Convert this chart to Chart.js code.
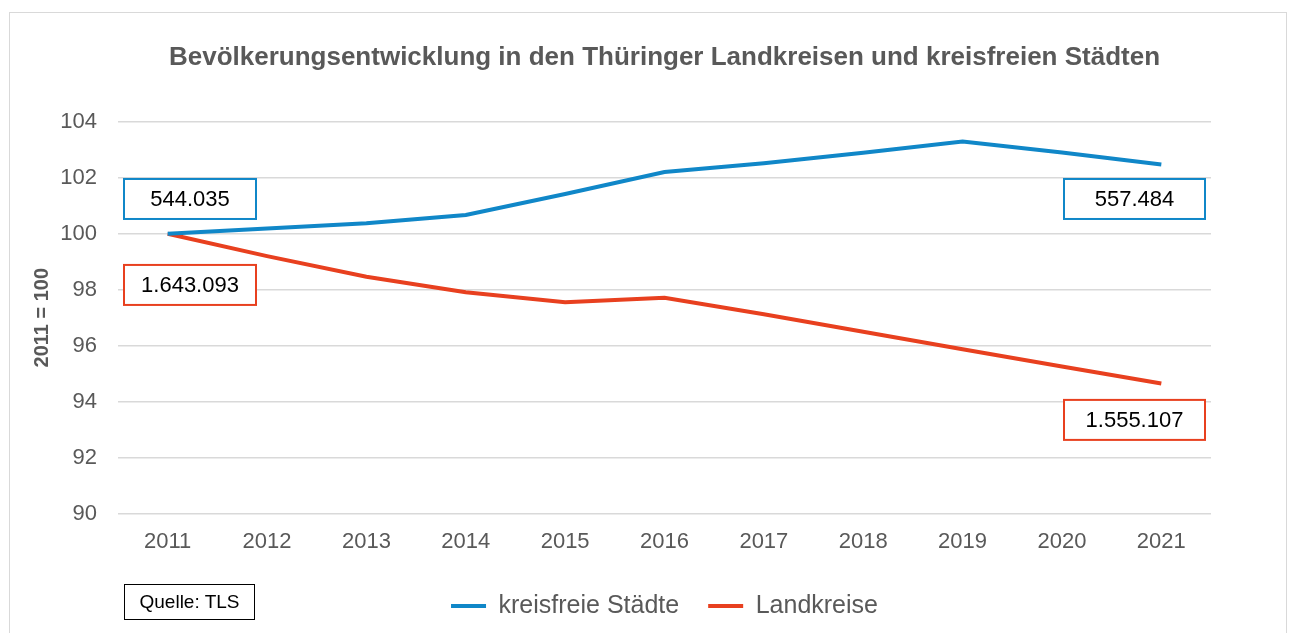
<!DOCTYPE html>
<html lang="de">
<head>
<meta charset="utf-8">
<title>Bevölkerungsentwicklung Thüringen</title>
<script src="https://cdn.jsdelivr.net/npm/chart.js@4.4.1/dist/chart.umd.min.js"></script>
<style>
  html, body { margin: 0; padding: 0; background: #fff; }
  #wrap { position: relative; width: 1289px; height: 633px; overflow: hidden; font-family: "Liberation Sans", Arial, sans-serif; }
  #frame { position: absolute; left: 9px; top: 12px; width: 1276px; height: 640px; border: 1px solid #d9d9d9; }
  #chart { position: absolute; left: 0; top: 0; }
  #quelle {
    position: absolute; left: 124px; top: 584px; width: 129px; height: 34px;
    border: 1.5px solid #000; color: #000; font-size: 19px;
    display: flex; align-items: center; justify-content: center;
  }
</style>
</head>
<body>
<div id="wrap">
  <div id="frame"></div>
  <canvas id="chart" width="1289" height="633"></canvas>
  <div id="quelle">Quelle: TLS</div>
</div>
<script>
// ---------------- DATEN ----------------
const years = ['2011','2012','2013','2014','2015','2016','2017','2018','2019','2020','2021'];
const kreisfreieStaedte = [100, 100.19, 100.37, 100.67, 101.42, 102.2, 102.52, 102.89, 103.29, 102.9, 102.47];
const landkreise = [100, 99.2, 98.46, 97.91, 97.55, 97.71, 97.12, 96.5, 95.87, 95.26, 94.65];
const seriesNames = ['kreisfreie Städte', 'Landkreise'];
const startCounts = ['544.035', '1.643.093'];   // Einwohner 2011
const endCounts = ['557.484', '1.555.107'];     // Einwohner 2021

const BLUE = '#1087c8';
const RED = '#e8401f';
const GREY = '#595959';
const FONT = '"Liberation Sans", Arial, sans-serif';

// Kästen mit Einwohnerzahlen (Lage in Wertachse)
const countBoxes = [
  { text: startCounts[0], color: BLUE, side: 'left',  value: 101.24, w: 132 },
  { text: startCounts[1], color: RED,  side: 'left',  value: 98.17,  w: 132 },
  { text: endCounts[0],   color: BLUE, side: 'right', value: 101.24, w: 141 },
  { text: endCounts[1],   color: RED,  side: 'right', value: 93.35,  w: 141 }
];

const countBoxPlugin = {
  id: 'countBoxes',
  afterDatasetsDraw(chart) {
    const { ctx, chartArea, scales } = chart;
    ctx.save();
    countBoxes.forEach(b => {
      const x = b.side === 'left' ? chartArea.left + 6 : chartArea.right - 6 - b.w;
      const yc = scales.y.getPixelForValue(b.value);
      ctx.fillStyle = '#fff';
      ctx.fillRect(x, yc - 20, b.w, 40);
      ctx.lineWidth = 2;
      ctx.strokeStyle = b.color;
      ctx.strokeRect(x, yc - 20, b.w, 40);
      ctx.fillStyle = '#000';
      ctx.font = '22px ' + FONT;
      ctx.textAlign = 'center';
      ctx.textBaseline = 'middle';
      ctx.fillText(b.text, x + b.w / 2, yc + 1);
    });
    ctx.restore();
  }
};

new Chart(document.getElementById('chart').getContext('2d'), {
  type: 'line',
  data: {
    labels: years,
    datasets: [
      { label: seriesNames[0], data: kreisfreieStaedte, borderColor: BLUE, backgroundColor: BLUE,
        borderWidth: 4, pointRadius: 0, tension: 0, yAxisID: 'y' },
      { label: seriesNames[1], data: landkreise, borderColor: RED, backgroundColor: RED,
        borderWidth: 4, pointRadius: 0, tension: 0, yAxisID: 'y' }
    ]
  },
  options: {
    responsive: false,
    animation: false,
    devicePixelRatio: 1,
    layout: { padding: { left: 40, right: 0, top: 0, bottom: 4.5 } },
    plugins: {
      title: {
        display: true,
        text: 'Bevölkerungsentwicklung in den Thüringer Landkreisen und kreisfreien Städten',
        color: GREY,
        font: { family: FONT, size: 26, weight: 'bold' },
        padding: { top: 42, bottom: 48.5 }
      },
      legend: {
        position: 'bottom',
        labels: {
          color: GREY,
          font: { family: FONT, size: 25 },
          boxWidth: 35,
          boxHeight: 4,
          padding: 29,
          generateLabels: chart => chart.data.datasets.map((ds, i) => ({
            text: ds.label, fillStyle: ds.borderColor, strokeStyle: ds.borderColor,
            lineWidth: 0, hidden: false, datasetIndex: i, fontColor: GREY
          }))
        }
      },
      tooltip: { enabled: false }
    },
    scales: {
      x: {
        offset: true,
        grid: { display: false },
        border: { display: false },
        ticks: { color: GREY, font: { family: FONT, size: 22 }, padding: 7, maxRotation: 0 },
        afterFit: s => { s.height = 50.8; }
      },
      y: {
        position: 'left',
        min: 90, max: 104,
        ticks: { stepSize: 2, color: GREY, font: { family: FONT, size: 22 }, padding: 21 },
        grid: { color: '#d9d9d9', lineWidth: 1.5, drawTicks: false },
        border: { display: false },
        title: {
          display: true, text: '2011 = 100', color: GREY,
          font: { family: FONT, size: 20, weight: 'bold' },
          padding: { top: -10, bottom: 0 }
        },
        afterFit: s => { s.width = 78; }
      },
      yRight: {
        position: 'right',
        grid: { display: false },
        border: { display: false },
        ticks: { display: false },
        afterFit: s => { s.width = 78; }
      }
    }
  },
  plugins: [countBoxPlugin]
});
</script>
</body>
</html>
